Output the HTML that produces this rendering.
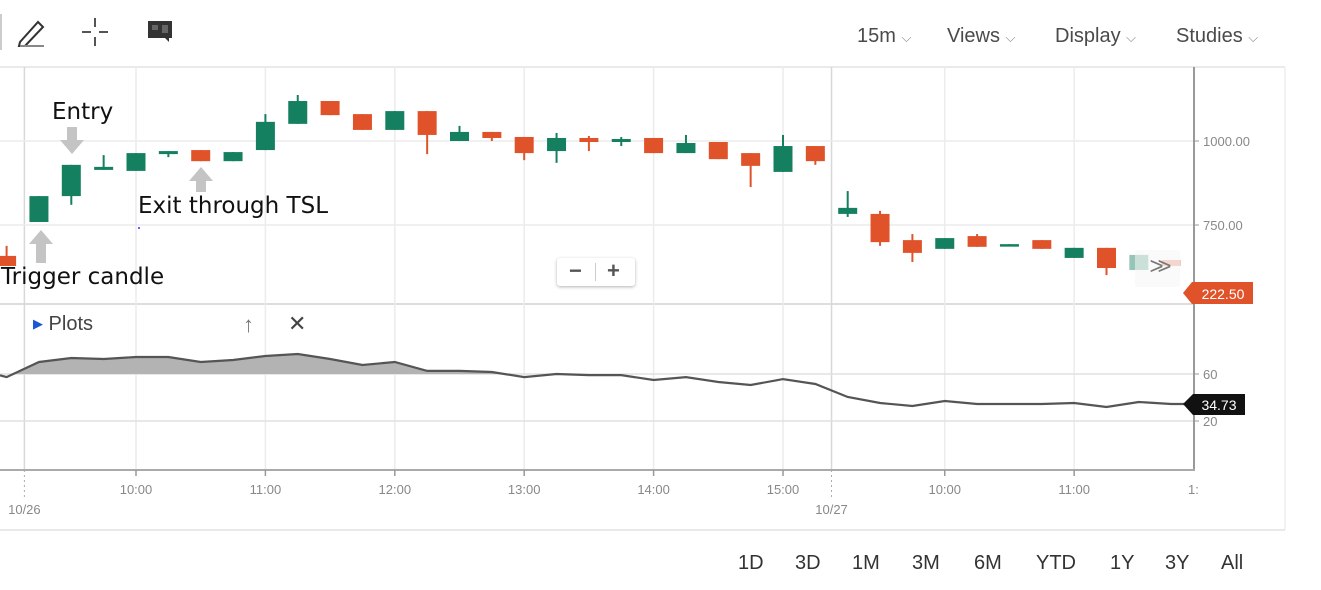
<!DOCTYPE html>
<html><head><meta charset="utf-8">
<style>
html,body{margin:0;padding:0;background:#fff;}
body{width:1321px;height:590px;overflow:hidden;position:relative;font-family:"Liberation Sans",sans-serif;}
.menu{position:absolute;top:25px;font-size:20px;color:#4a4a4a;}
.rng{position:absolute;top:552px;font-size:20px;color:#333;}
.ann{position:absolute;font-family:"DejaVu Sans","Liberation Sans",sans-serif;font-size:23px;color:#111;}
</style></head><body>
<div style="position:absolute;left:0;top:14px;width:2px;height:36px;background:#ccc"></div>
<svg style="position:absolute;left:0;top:0" width="200" height="60">
 <g fill="none" stroke="#333" stroke-width="2"><path d="M20 42 L38 22 L43 27 L25 46 L19 46 Z"/><path d="M20 46 H44" stroke="#888"/></g>
 <g stroke="#555" stroke-width="2"><path d="M95 18v9M95 37v9M82 32h9M99 32h9"/></g>
 <g><path d="M148 21h24v17h-3v4l-4-4h-17z" fill="#333"/><path d="M152 25h6v5h-6zM162 25h6v8h-6z" fill="#666"/></g>
</svg>
<div class="menu" style="left:857px">15m <span style="font-size:13px;color:#888">⌵</span></div>
<div class="menu" style="left:947px">Views <span style="font-size:13px;color:#888">⌵</span></div>
<div class="menu" style="left:1055px">Display <span style="font-size:13px;color:#888">⌵</span></div>
<div class="menu" style="left:1176px">Studies <span style="font-size:13px;color:#888">⌵</span></div>

<svg id="chart" style="position:absolute;left:0;top:0" width="1321" height="590"></svg>

<div class="ann" style="left:52px;top:99px">Entry</div>
<div class="ann" style="left:138px;top:193px">Exit through TSL</div>
<div class="ann" style="left:1px;top:264px">Trigger candle</div>

<div style="position:absolute;left:557px;top:258px;width:78px;height:28px;background:#fff;border-radius:3px;box-shadow:0 1px 3px rgba(0,0,0,.3);font-size:22px;font-weight:bold;color:#555">
 <span style="position:absolute;left:12px;top:0">−</span>
 <span style="position:absolute;left:38px;top:5px;width:1px;height:18px;background:#ccc"></span>
 <span style="position:absolute;left:50px;top:0">+</span>
</div>
<div style="position:absolute;left:1135px;top:250px;width:45px;height:37px;background:rgba(245,245,245,.55);border-radius:3px;font-size:24px;color:#777;line-height:34px;text-align:center;letter-spacing:-6px">&gt;&gt;</div>

<div style="position:absolute;left:33px;top:313px;font-size:20px;color:#444"><span style="color:#1a56d6;font-size:13px;vertical-align:2px">▶</span> Plots</div>
<div style="position:absolute;left:243px;top:312px;font-size:22px;color:#777">↑</div>
<div style="position:absolute;left:288px;top:311px;font-size:22px;color:#444">✕</div>

<div class="rng" style="left:738px">1D</div>
<div class="rng" style="left:795px">3D</div>
<div class="rng" style="left:852px">1M</div>
<div class="rng" style="left:912px">3M</div>
<div class="rng" style="left:974px">6M</div>
<div class="rng" style="left:1036px">YTD</div>
<div class="rng" style="left:1110px">1Y</div>
<div class="rng" style="left:1165px">3Y</div>
<div class="rng" style="left:1221px">All</div>

<script>
const opens  =[658,759,836,914,911,961,973,940,973,1051,1119,1080,1033,1089,1000,1027,1012,970,1009,997,1009,964,997,964,908,985,783,783,705,679,717,688,705,652,682,616,646];
const highs  =[688,836,929,958,964,970,973,967,1080,1137,1119,1080,1089,1089,1045,1027,1012,1024,1015,1012,1009,1018,997,964,1018,985,851,792,723,711,723,693,705,682,682,661,646];
const lows   =[628,759,810,914,911,952,940,940,973,1051,1077,1033,1033,961,1000,1000,943,935,970,985,964,964,946,863,908,929,774,688,640,679,685,688,679,652,601,616,628];
const closes =[628,836,929,923,964,970,940,967,1057,1119,1077,1033,1089,1018,1027,1009,964,1009,997,1006,964,994,946,926,985,940,801,699,667,711,685,693,679,682,622,661,628];
const indicator=[57.4,70.2,73.6,72.8,74.5,74.5,70.2,71.9,75.3,77.0,72.8,67.7,70.2,62.6,62.6,61.7,57.4,60.0,59.1,59.1,54.9,57.4,53.2,50.6,55.7,51.5,40.4,35.3,32.8,37.0,34.5,34.5,34.5,35.3,31.9,36.2,34.5];
const priceTicks=[1000,750];
const priceTickLabels=["1000.00","750.00"];
const indTicks=[60,20];
const timeTickIdx=[4,8,12,16,20,24,29,33,37];
const timeTickLabels=["10:00","11:00","12:00","13:00","14:00","15:00","10:00","11:00","1:"];
const dayBreakIdx=[0.55,25.5];
const dayLabels=["10/26","10/27"];
const lastPrice="222.50", lastInd="34.73";

const NS="http://www.w3.org/2000/svg";
const svg=document.getElementById('chart');
const xs=i=>6.6+i*32.35;
const yp=p=>141-(p-1000)*0.336;
const yi=v=>421-(v-20)*1.175;
function mk(t,a,parent){const e=document.createElementNS(NS,t);for(const k in a)e.setAttribute(k,a[k]);(parent||svg).appendChild(e);return e;}

let g=mk('g',{});


mk('line',{x1:0,y1:67,x2:1285,y2:67,stroke:'#e4e4e4','stroke-width':1.5},g);
mk('line',{x1:1285,y1:67,x2:1285,y2:530,stroke:'#eee','stroke-width':1.5},g);
mk('line',{x1:0,y1:530,x2:1285,y2:530,stroke:'#e2e2e2','stroke-width':1.5},g);
mk('line',{x1:0,y1:304,x2:1194,y2:304,stroke:'#ddd','stroke-width':2},g);
timeTickIdx.forEach(i=>{if(xs(i)<1194)mk('line',{x1:xs(i),y1:67,x2:xs(i),y2:470,stroke:'#ececec','stroke-width':1.5},g);});
dayBreakIdx.forEach(i=>mk('line',{x1:xs(i),y1:67,x2:xs(i),y2:470,stroke:'#d8d8d8','stroke-width':1.5},g));
priceTicks.forEach(p=>mk('line',{x1:0,y1:yp(p),x2:1194,y2:yp(p),stroke:'#ececec','stroke-width':1.5},g));
indTicks.forEach(v=>mk('line',{x1:0,y1:yi(v),x2:1194,y2:yi(v),stroke:'#e0e0e0','stroke-width':1.5},g));
mk('line',{x1:1194,y1:67,x2:1194,y2:470,stroke:'#999','stroke-width':2},g);
mk('line',{x1:0,y1:470,x2:1195,y2:470,stroke:'#aaa','stroke-width':2},g);

priceTicks.forEach((p,k)=>{mk('line',{x1:1194,y1:yp(p),x2:1199,y2:yp(p),stroke:'#999'});
 const t=mk('text',{x:1203,y:yp(p)+5,'font-size':13,fill:'#888','font-family':'Liberation Sans'});t.textContent=priceTickLabels[k];
 
 });
indTicks.forEach(v=>{mk('line',{x1:1194,y1:yi(v),x2:1199,y2:yi(v),stroke:'#999'});
 const t=mk('text',{x:1203,y:yi(v)+5,'font-size':13,fill:'#888','font-family':'Liberation Sans'});t.textContent=v;
 
 });
timeTickIdx.forEach((i,k)=>{const x=xs(i);
 if(x<1194)mk('line',{x1:x,y1:470,x2:x,y2:476,stroke:'#999','stroke-width':1.5});
 const t=mk('text',{x:Math.min(x,1188),y:494,'font-size':13,fill:'#888','text-anchor':x<1194?'middle':'start','font-family':'Liberation Sans'});t.textContent=timeTickLabels[k];
 
 });
dayBreakIdx.forEach((i,k)=>{const x=xs(i);
 mk('line',{x1:x,y1:470,x2:x,y2:500,stroke:'#aaa','stroke-dasharray':'2,3'});
 const t=mk('text',{x:x,y:514,'font-size':13,fill:'#888','text-anchor':'middle','font-family':'Liberation Sans'});t.textContent=dayLabels[k];
 
 });

const G='#15805f',R='#e0532a';
opens.forEach((o,i)=>{const c=closes[i],x=xs(i),col=c>=o?G:R,faded=i>=35;
 const cg=mk('g',{opacity:faded?0.45:1});
 
 
 mk('line',{x1:x,y1:yp(highs[i]),x2:x,y2:yp(lows[i]),stroke:col,'stroke-width':2},cg);
 const top=yp(Math.max(o,c)),bot=yp(Math.min(o,c));
 mk('rect',{x:x-9.5,y:top,width:19,height:Math.max(2.5,bot-top),fill:col},cg);
});

const ptsX=[0].concat(indicator.map((v,i)=>xs(i))).concat([1190]);
const ptsY=[yi(indicator[0]+1.5)].concat(indicator.map(v=>yi(v))).concat([yi(indicator[indicator.length-1])]);
let d='';ptsX.forEach((x,k)=>{d+=(k?'L':'M')+x.toFixed(1)+' '+ptsY[k].toFixed(1);});
const clip=mk('clipPath',{id:'above60'});mk('rect',{x:0,y:300,width:1194,height:yi(60)-300},clip);
const area=mk('path',{d:d+`L1190 ${yi(60)}L0 ${yi(60)}Z`,fill:'#b3b3b3','clip-path':'url(#above60)'});


const ln=mk('path',{d:d,fill:'none',stroke:'#555','stroke-width':2.2});



function arrow(x,y1,y2,up){const a=mk('path',{fill:'#c4c4c4',d:up?
 `M${x} ${y1}L${x+12} ${y1+14}L${x+5} ${y1+14}L${x+5} ${y2}L${x-5} ${y2}L${x-5} ${y1+14}L${x-12} ${y1+14}Z`:
 `M${x} ${y2}L${x+12} ${y2-14}L${x+5} ${y2-14}L${x+5} ${y1}L${x-5} ${y1}L${x-5} ${y2-14}L${x-12} ${y2-14}Z`});
 
 }
arrow(72,127,154,false);arrow(201,167,192,true);arrow(41,230,263,true);
mk('circle',{cx:139,cy:228,r:1,fill:'#33f'});

const pt=mk('g',{});


mk('path',{d:'M1183 293L1192 282H1253V304H1192Z',fill:'#e0532a'},pt);
let t=mk('text',{x:1223,y:299,'font-size':14,fill:'#fff','text-anchor':'middle','font-family':'Liberation Sans'},pt);t.textContent=lastPrice;
const it=mk('g',{});


mk('path',{d:'M1183 404L1193 394H1245V415H1193Z',fill:'#111'},it);
t=mk('text',{x:1219,y:410,'font-size':14,fill:'#fff','text-anchor':'middle','font-family':'Liberation Sans'},it);t.textContent=lastInd;
</script>
</body></html>
